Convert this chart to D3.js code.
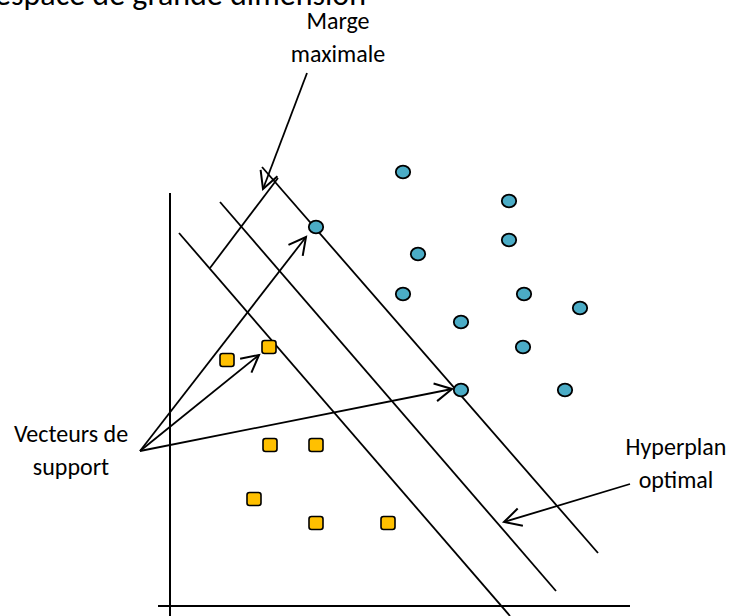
<!DOCTYPE html>
<html>
<head>
<meta charset="utf-8">
<script src="https://cdn.jsdelivr.net/npm/d3@7"></script>
<style>
  html, body { margin: 0; padding: 0; background: #fff; }
  svg { display: block; }
  text { font-family: Carlito, Calibri, Lato, sans-serif; fill: #000; }
</style>
</head>
<body>
<svg id="chart" width="729" height="616"></svg>
<script>
// ---- Data (units: offset from the axes origin) ----
const classA = [ // blue circles
  [146, 379], [233, 434], [339, 405], [339, 366], [248, 352], [233, 312],
  [354, 312], [410, 298], [291, 284], [353, 259], [291, 216], [395, 216]
];
const classB = [ // orange squares
  [57, 246], [99, 259], [100, 161], [146, 161], [84, 107], [146, 83], [218, 83]
];
const hyperplanes = [ // three parallel lines [x1,y1,x2,y2]
  [9, 373, 340, -10],
  [50, 404, 386, 15],
  [92, 439, 428, 53]
];
const marginSegment = [40, 338, 108, 428];
const axesLines = [[0, 413, 0, -10], [-12, 0, 460, 0]];
const supportOrigin = [-30, 155];
const supportTargets = [[136, 369], [89, 251], [282, 217]];
const margeArrow = [137, 533, 93, 417];
const hyperArrow = [460, 122, 334, 84];
const labels = [
  {lines: ["Marge", "maximale"], x: 168, y: 577},
  {lines: ["Vecteurs de", "support"], x: -99, y: 164},
  {lines: ["Hyperplan", "optimal"], x: 506, y: 151}
];
const titleText = "espace de grande dimension";

// ---- Scales ----
const x = d3.scaleLinear().domain([0, 460]).range([170, 630]);
const y = d3.scaleLinear().domain([0, 413]).range([606, 193]);

const svg = d3.select("#chart");

svg.append("defs").append("marker")
  .attr("id", "open")
  .attr("markerUnits", "userSpaceOnUse")
  .attr("viewBox", "-20 -12 24 24")
  .attr("markerWidth", 24).attr("markerHeight", 24)
  .attr("refX", 0).attr("refY", 0)
  .attr("orient", "auto")
  .append("path")
  .attr("d", "M-17,-9 L0,0 L-17,9")
  .attr("fill", "none").attr("stroke", "#000").attr("stroke-width", 2)
  .attr("stroke-linejoin", "miter");

// title (cut at the top, as in the reference)
svg.append("text").attr("x", 366).attr("y", 5)
  .attr("text-anchor", "end").attr("font-size", 32).text(titleText);

function seg(d, w) {
  return svg.append("line")
    .attr("x1", x(d[0])).attr("y1", y(d[1]))
    .attr("x2", x(d[2])).attr("y2", y(d[3]))
    .attr("stroke", "#000").attr("stroke-width", w);
}

axesLines.forEach(d => seg(d, 2));
hyperplanes.forEach(d => seg(d, 1.8));
seg(marginSegment, 1.8);

seg(margeArrow, 1.8).attr("marker-end", "url(#open)");
seg(hyperArrow, 1.8).attr("marker-end", "url(#open)");
supportTargets.forEach(t => {
  seg([supportOrigin[0], supportOrigin[1], t[0], t[1]], 1.8).attr("marker-end", "url(#open)");
});

// points
svg.selectAll("ellipse.a").data(classA).join("ellipse")
  .attr("cx", d => x(d[0])).attr("cy", d => y(d[1]))
  .attr("rx", 7.2).attr("ry", 6.3)
  .attr("fill", "#4BACC6").attr("stroke", "#000").attr("stroke-width", 1.8);

svg.selectAll("rect.b").data(classB).join("rect")
  .attr("x", d => x(d[0]) - 7).attr("y", d => y(d[1]) - 6.5)
  .attr("width", 14).attr("height", 13).attr("rx", 2.5)
  .attr("fill", "#FFC000").attr("stroke", "#000").attr("stroke-width", 1.6);

// labels
labels.forEach(l => {
  const t = svg.append("text").attr("text-anchor", "middle").attr("font-size", 24);
  l.lines.forEach((s, i) => {
    t.append("tspan").attr("x", x(l.x)).attr("y", y(l.y) + i * 33).text(s);
  });
});
</script>
</body>
</html>
